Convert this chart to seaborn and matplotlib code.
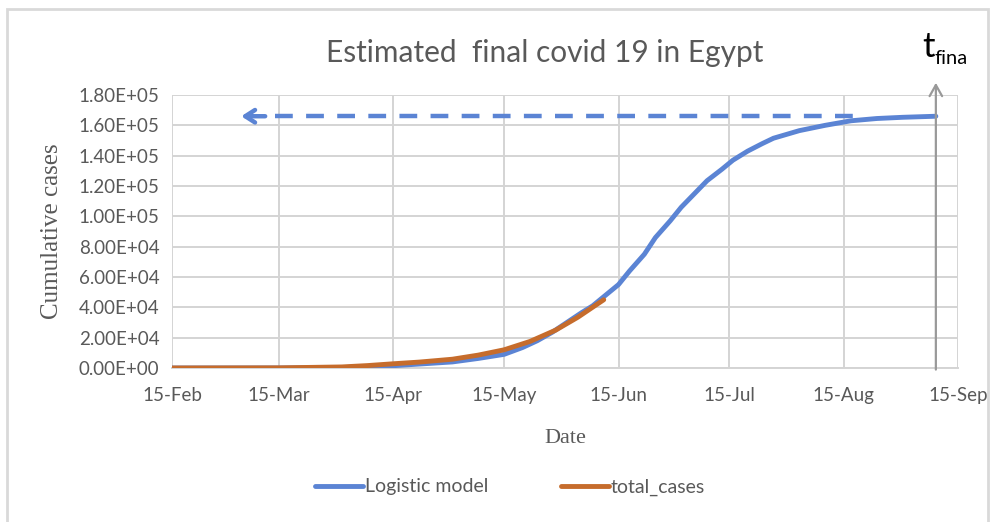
import pandas as pd
import matplotlib.pyplot as plt
import matplotlib.dates as mdates
from matplotlib.patches import Rectangle
import seaborn as sns

# --- data ---
logistic_dates = ['2020-02-15', '2020-03-15', '2020-04-01', '2020-04-08', '2020-04-15',
                  '2020-04-22', '2020-05-01', '2020-05-08', '2020-05-15', '2020-05-20',
                  '2020-05-24', '2020-05-28', '2020-06-01', '2020-06-05', '2020-06-08',
                  '2020-06-11', '2020-06-15', '2020-06-18', '2020-06-22', '2020-06-25',
                  '2020-06-29', '2020-07-02', '2020-07-06', '2020-07-09', '2020-07-13',
                  '2020-07-16', '2020-07-20', '2020-07-24', '2020-07-27', '2020-08-03',
                  '2020-08-10', '2020-08-17', '2020-08-24', '2020-08-31', '2020-09-09']
logistic_model = [0, 20, 300, 800, 1500, 2600, 4000, 6300, 9000, 13500,
                  18000, 23500, 30000, 36500, 41000, 47000, 55000, 64000, 75000, 86000,
                  97000, 106000, 116000, 123500, 131000, 137000, 143000, 148000, 151500, 156500,
                  160000, 163000, 164500, 165300, 166000]

total_dates = ['2020-02-15', '2020-03-15', '2020-04-01', '2020-04-08', '2020-04-15',
               '2020-04-22', '2020-05-01', '2020-05-08', '2020-05-15', '2020-05-22',
               '2020-05-29', '2020-06-04', '2020-06-11']
total_cases = [0, 100, 700, 1600, 2800, 3900, 5800, 8500, 12000, 17500, 25000, 33500, 45000]

tick_dates = ['2020-02-15', '2020-03-15', '2020-04-15', '2020-05-15', '2020-06-15',
              '2020-07-15', '2020-08-15', '2020-09-15']

# horizontal dashed marker for the final size, and arrow tip on the left
dash_from, dash_to = '2020-03-14', '2020-08-21'
arrow_tip, arrow_tail = '2020-03-04', '2020-03-12'

BLUE = '#5b84d4'
ORANGE = '#c66c2c'
GRID = '#d4d4d4'
TEXT = '#595959'

df = pd.concat([
    pd.DataFrame({'Date': pd.to_datetime(logistic_dates), 'cases': logistic_model,
                  'series': 'Logistic model'}),
    pd.DataFrame({'Date': pd.to_datetime(total_dates), 'cases': total_cases,
                  'series': 'total_cases'}),
])

sns.set_style('white')
plt.rcParams['font.family'] = ['Lato', 'DejaVu Sans']

fig = plt.figure(figsize=(9.9, 5.22), dpi=100)
ax = fig.add_axes([172 / 990, 1 - 368 / 522, (958 - 172) / 990, (368 - 95) / 522])

sns.lineplot(data=df, x='Date', y='cases', hue='series',
             palette={'Logistic model': BLUE, 'total_cases': ORANGE},
             linewidth=3.5, ax=ax, legend=True, zorder=3)

final_cases = logistic_model[-1]
t_final = pd.to_datetime(logistic_dates[-1])

# dashed line towards the y axis
ax.plot(pd.to_datetime([dash_from, dash_to]), [final_cases, final_cases],
        color=BLUE, linewidth=3.2, dashes=(4, 3), solid_capstyle='butt', zorder=3)
ax.annotate('', xy=(pd.to_datetime(arrow_tip), final_cases),
            xytext=(pd.to_datetime(arrow_tail), final_cases),
            arrowprops=dict(arrowstyle='->, head_length=0.7, head_width=0.45',
                            color=BLUE, lw=3.2), zorder=3)

# vertical arrow at t_final
ax.annotate('', xy=(t_final, 1.055), xytext=(t_final, -0.016),
            xycoords=('data', 'axes fraction'), textcoords=('data', 'axes fraction'),
            arrowprops=dict(arrowstyle='->, head_length=0.8, head_width=0.45',
                            color='#999999', lw=1.6), annotation_clip=False, zorder=4)
ax.annotate('t', xy=(t_final, 1.139), xycoords=('data', 'axes fraction'),
            xytext=(-1, 0), textcoords='offset points', ha='right', va='baseline',
            fontsize=25, color='black', annotation_clip=False)
ax.annotate('fina', xy=(t_final, 1.112), xycoords=('data', 'axes fraction'),
            xytext=(-1, 0), textcoords='offset points', ha='left', va='baseline',
            fontsize=14.5, color='black', annotation_clip=False)

# axes
ax.set_xlim(pd.to_datetime(tick_dates[0]), pd.to_datetime(tick_dates[-1]))
ax.set_ylim(0, 180000)
ax.set_xticks(pd.to_datetime(tick_dates))
ax.xaxis.set_major_formatter(mdates.DateFormatter('%d-%b'))
ax.set_yticks(range(0, 180001, 20000))
ax.set_yticklabels([f'{v:.2E}' for v in range(0, 180001, 20000)])
ax.tick_params(axis='both', labelsize=13.5, colors=TEXT, length=0)
ax.tick_params(axis='x', pad=14)
ax.tick_params(axis='y', pad=9)

ax.grid(True, color=GRID, linewidth=1.4)
ax.set_axisbelow(True)
for side in ['top', 'right', 'left']:
    ax.spines[side].set_visible(False)
ax.spines['bottom'].set_color(GRID)
ax.spines['bottom'].set_linewidth(1.4)

ax.set_xlabel('Date', family='Liberation Serif', fontsize=16, color=TEXT, labelpad=18)
ax.set_ylabel('Cumulative cases', family='Liberation Serif', fontsize=18, color=TEXT,
              labelpad=11)
fig.text(545 / 990, 1 - 53 / 522, 'Estimated  final covid 19 in Egypt', ha='center',
         va='center', fontsize=21.5, color=TEXT)

handles, labels = ax.get_legend_handles_labels()
leg = ax.legend(handles, labels, loc='center', bbox_to_anchor=(510 / 990, 1 - 487 / 522),
                bbox_transform=fig.transFigure, ncol=2, frameon=False, fontsize=14,
                handlelength=2.5, handletextpad=0.1, columnspacing=3.7)
for line in leg.get_lines():
    line.set_linewidth(3.5)
for t in leg.get_texts():
    t.set_color(TEXT)

# light outer chart frame
fig.patches.append(Rectangle((7 / 990, -0.05), (988 - 7) / 990, 1.05 - 9 / 522,
                             transform=fig.transFigure, fill=False,
                             edgecolor='#d9d9d9', linewidth=2))

fig.savefig('out.png', dpi=100)
